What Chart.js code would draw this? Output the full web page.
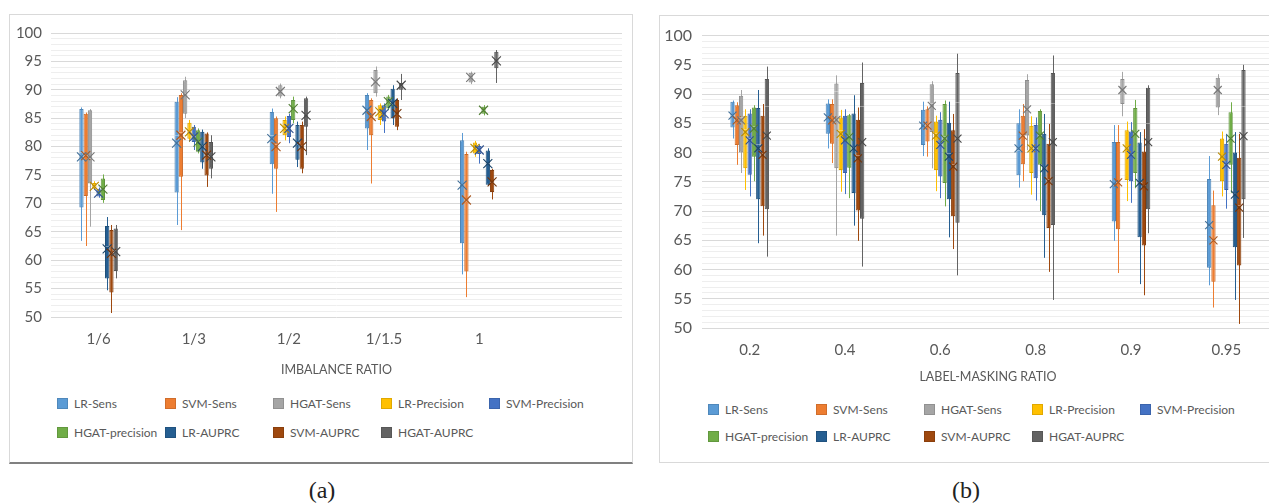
<!DOCTYPE html>
<html>
<head>
<meta charset="utf-8">
<script src="https://cdn.jsdelivr.net/npm/chart.js@4.4.1/dist/chart.umd.min.js"></script>
<style>
html, body { margin: 0; padding: 0; background: #fff; width: 1269px; height: 504px; overflow: hidden; position: relative; font-family: Lato, sans-serif; }
.frame { position: absolute; box-sizing: border-box; border: 1px solid #d9d9d9; }
#frameA { left: 9px; top: 14px; width: 624px; height: 450px; border-bottom: 2px solid #808080; }
#frameB { left: 659px; top: 15px; width: 640px; height: 448px; }
.wrap { position: absolute; height: 380px; }
#wrapA { left: 10px; top: 15px; width: 621px; }
#wrapB { left: 660px; top: 16px; width: 620px; }
.item { position: absolute; white-space: nowrap; font-size: 12px; line-height: 14px; color: #595959; }
.item i { display: inline-block; width: 11px; height: 11px; vertical-align: -1px; margin-right: 6px; box-sizing: border-box; border: 1px solid rgba(0,0,0,.12); }
.cap { position: absolute; font-family: "Liberation Serif", serif; font-size: 24px; color: #222; transform: translate(-50%, -50%); }
</style>
</head>
<body>
<div class="frame" id="frameA"></div>
<div class="frame" id="frameB"></div>
<div class="wrap" id="wrapA"><canvas id="chartA"></canvas></div>
<div class="wrap" id="wrapB"><canvas id="chartB"></canvas></div>
<div id="legends"></div>
<div class="cap" style="left:322px;top:490px">(a)</div>
<div class="cap" style="left:966px;top:490px">(b)</div>
<script>
const seriesNames = ['LR-Sens', 'SVM-Sens', 'HGAT-Sens', 'LR-Precision', 'SVM-Precision', 'HGAT-precision', 'LR-AUPRC', 'SVM-AUPRC', 'HGAT-AUPRC'];
const seriesColors = ['#5B9BD5', '#ED7D31', '#A5A5A5', '#FFC000', '#4472C4', '#70AD47', '#255E91', '#9E480E', '#636363'];

// (a) imbalance ratio, rows = series, columns = categories
const catsA = ['1/6', '1/3', '1/2', '1/1.5', '1', ''];
const minA = [
  [63.4, 66.2, 71.7, 79.4, 57.5],
  [62.5, 65.3, 68.5, 73.5, 53.5],
  [65.9, 85.0, 88.5, 88.8, 91.0],
  [72.4, 80.8, 81.1, 83.8, 78.2],
  [71.0, 79.4, 80.6, 82.4, 77.0],
  [70.1, 78.8, 84.1, 86.4, 85.5],
  [54.7, 76.1, 76.4, 83.8, 73.2],
  [50.7, 72.9, 75.3, 82.9, 70.7],
  [56.8, 74.4, 78.5, 88.2, 91.2]
];
const q1A = [
  [69.3, 71.9, 76.9, 83.2, 63.0],
  [71.3, 74.7, 76.1, 82.0, 58.0],
  [73.5, 85.8, 88.8, 89.4, 91.3],
  [72.6, 81.4, 82.0, 84.7, 78.8],
  [71.2, 80.8, 81.7, 84.4, 78.7],
  [70.6, 79.1, 84.7, 86.7, 85.8],
  [56.8, 77.2, 77.7, 85.0, 73.3],
  [54.3, 74.9, 76.1, 83.5, 72.0],
  [58.1, 76.1, 83.5, 90.0, 93.8]
];
const medA = [
  [79.0, 82.0, 82.0, 86.5, 73.5],
  [78.5, 82.5, 80.5, 85.5, 70.5],
  [78.0, 89.5, 89.8, 91.5, 92.2],
  [73.1, 82.8, 83.3, 86.0, 79.8],
  [71.8, 81.8, 83.3, 85.8, 79.5],
  [72.6, 80.9, 86.6, 87.9, 86.4],
  [62.5, 80.2, 80.5, 87.5, 77.2],
  [61.5, 78.5, 80.2, 85.8, 73.8],
  [61.8, 78.3, 85.8, 90.6, 95.0]
];
const q3A = [
  [86.6, 87.9, 86.1, 89.1, 81.1],
  [85.8, 89.1, 85.0, 88.2, 78.7],
  [86.4, 91.7, 90.8, 93.5, 93.0],
  [73.6, 84.2, 84.7, 87.3, 80.7],
  [72.6, 83.5, 85.4, 87.3, 80.1],
  [74.4, 82.9, 88.2, 88.8, 87.0],
  [66.0, 82.6, 83.8, 90.2, 79.3],
  [65.3, 82.3, 83.8, 88.2, 75.9],
  [65.6, 80.8, 88.5, 91.2, 96.7]
];
const maxA = [
  [86.9, 88.7, 86.7, 89.4, 82.4],
  [86.0, 89.4, 85.3, 88.5, 79.1],
  [86.6, 92.3, 91.1, 94.1, 93.2],
  [73.9, 84.7, 85.3, 87.6, 81.0],
  [72.8, 83.8, 85.8, 87.6, 80.4],
  [75.1, 83.2, 88.8, 89.1, 87.3],
  [67.6, 83.0, 84.4, 90.8, 79.7],
  [66.2, 82.5, 84.4, 88.5, 76.1],
  [66.2, 82.0, 88.8, 92.8, 97.0]
];
const meanA = [
  [78.2, 80.6, 81.4, 86.4, 73.2],
  [78.4, 82.0, 80.0, 85.3, 70.6],
  [78.2, 89.1, 89.7, 91.4, 92.2],
  [73.0, 82.6, 83.2, 86.1, 79.7],
  [71.8, 81.7, 83.2, 85.8, 79.4],
  [72.5, 80.8, 86.7, 87.9, 86.4],
  [62.0, 80.0, 80.6, 87.6, 77.0],
  [61.2, 78.5, 80.0, 85.8, 73.8],
  [61.5, 78.2, 85.5, 90.8, 95.1]
];

// (b) label-masking ratio
const catsB = ['0.2', '0.4', '0.6', '0.8', '0.9', '0.95'];
const minB = [
  [82.4, 80.7, 79.4, 74.0, 64.9, 57.3],
  [77.9, 78.2, 79.3, 75.1, 59.4, 53.5],
  [76.5, 65.8, 77.3, 80.4, 86.2, 86.4],
  [73.6, 73.3, 73.4, 72.8, 71.7, 72.5],
  [72.5, 72.9, 72.2, 71.8, 71.4, 70.4],
  [75.1, 72.2, 70.8, 70.0, 73.9, 73.1],
  [64.5, 67.5, 65.5, 62.0, 57.5, 54.8],
  [65.8, 64.9, 63.5, 59.6, 55.6, 50.7],
  [62.2, 60.5, 59.0, 54.8, 66.2, 65.4]
];
const q1B = [
  [84.3, 83.2, 81.3, 76.1, 68.2, 60.3],
  [81.3, 81.5, 81.9, 78.0, 66.9, 57.9],
  [80.0, 77.3, 83.5, 82.9, 88.3, 87.7],
  [77.3, 77.0, 77.0, 76.5, 75.3, 75.1],
  [76.2, 76.5, 75.9, 75.6, 75.1, 73.6],
  [79.3, 77.4, 74.8, 77.9, 76.5, 77.9],
  [72.0, 73.1, 72.0, 69.3, 65.5, 63.8],
  [70.8, 70.1, 69.1, 67.1, 64.1, 60.7],
  [70.3, 68.7, 68.0, 67.6, 70.3, 72.0]
];
const medB = [
  [86.5, 86.2, 84.8, 80.5, 74.5, 67.5],
  [85.8, 85.8, 84.8, 83.0, 75.0, 65.0],
  [86.0, 90.5, 88.5, 87.5, 90.8, 90.8],
  [84.0, 83.8, 83.3, 81.0, 81.0, 79.5],
  [82.5, 82.3, 81.5, 80.8, 79.8, 78.0],
  [84.5, 83.0, 82.8, 83.0, 83.5, 82.5],
  [81.5, 81.0, 80.0, 77.5, 75.0, 73.0],
  [80.0, 79.5, 78.0, 75.5, 74.5, 71.0],
  [88.0, 88.0, 88.7, 88.5, 85.0, 88.0]
];
const q3B = [
  [88.7, 88.4, 87.3, 85.0, 81.8, 75.5],
  [88.1, 88.3, 87.4, 86.3, 81.8, 71.0],
  [89.7, 91.8, 91.7, 92.4, 92.6, 92.8],
  [86.3, 86.0, 85.3, 84.6, 83.8, 82.4],
  [86.7, 86.3, 85.6, 84.7, 83.6, 81.5],
  [87.7, 86.4, 88.3, 87.1, 87.6, 86.9],
  [87.6, 86.7, 85.1, 83.2, 81.7, 80.0],
  [86.3, 85.6, 83.8, 81.5, 80.2, 79.1],
  [92.6, 91.9, 93.6, 93.6, 91.1, 94.1]
];
const maxB = [
  [88.9, 89.1, 88.7, 87.4, 84.7, 79.4],
  [88.6, 89.1, 87.9, 88.3, 84.7, 73.5],
  [90.7, 93.2, 92.2, 93.4, 93.8, 93.4],
  [87.4, 87.3, 86.3, 86.2, 85.3, 83.6],
  [87.4, 87.4, 86.9, 86.0, 85.2, 83.2],
  [88.1, 86.6, 88.9, 87.4, 89.0, 88.6],
  [90.7, 89.8, 88.7, 86.6, 83.5, 83.5],
  [88.3, 87.7, 86.6, 84.9, 84.0, 83.2],
  [94.7, 95.4, 96.9, 96.6, 91.5, 95.0]
];
const meanB = [
  [86.3, 86.0, 84.6, 80.7, 74.6, 67.6],
  [85.5, 85.5, 84.6, 82.9, 74.9, 65.0],
  [85.5, 85.6, 88.0, 87.4, 90.7, 90.7],
  [83.5, 83.2, 82.9, 80.7, 80.7, 79.3],
  [82.1, 82.1, 81.3, 80.7, 79.6, 77.9],
  [84.1, 82.7, 82.4, 82.9, 83.2, 82.4],
  [80.7, 80.7, 79.3, 77.3, 74.8, 72.8],
  [79.6, 79.0, 77.6, 75.1, 74.2, 70.6],
  [82.9, 81.8, 82.4, 81.8, 81.8, 82.8]
];

const textColor = '#595959';

function shade(hex, f) {
  const n = parseInt(hex.slice(1), 16);
  const r = Math.round(((n >> 16) & 255) * f), g = Math.round(((n >> 8) & 255) * f), b = Math.round((n & 255) * f);
  return `rgb(${r},${g},${b})`;
}

// whiskers behind the boxes, median and mean marks on top
const boxPlugin = {
  id: 'boxMarks',
  beforeDatasetsDraw(chart) {
    const ctx = chart.ctx, y = chart.scales.y;
    chart.data.datasets.forEach((ds, i) => {
      chart.getDatasetMeta(i).data.forEach((bar, j) => {
        const st = ds.stats;
        if (st.min[j] == null) return;
        const x = Math.round(bar.x) + 0.5;
        ctx.save();
        ctx.strokeStyle = ds.backgroundColor;
        ctx.lineWidth = 1;
        ctx.beginPath();
        ctx.moveTo(x, y.getPixelForValue(st.min[j]));
        ctx.lineTo(x, y.getPixelForValue(st.max[j]));
        ctx.stroke();
        ctx.restore();
      });
    });
  },
  afterDatasetsDraw(chart, args, opts) {
    const ctx = chart.ctx, y = chart.scales.y;
    const s = opts.markSize || 4;
    chart.data.datasets.forEach((ds, i) => {
      chart.getDatasetMeta(i).data.forEach((bar, j) => {
        const st = ds.stats;
        if (st.mean[j] == null) return;
        const w = bar.width / 2;
        const ym = Math.round(y.getPixelForValue(st.med[j])) + 0.5;
        ctx.save();
        ctx.strokeStyle = 'rgba(255,255,255,0.35)';
        ctx.lineWidth = 1;
        ctx.beginPath();
        ctx.moveTo(bar.x - w, ym);
        ctx.lineTo(bar.x + w, ym);
        ctx.stroke();
        const yv = y.getPixelForValue(st.mean[j]);
        ctx.strokeStyle = shade(seriesColors[i], 0.72);
        ctx.lineWidth = 1.1;
        ctx.beginPath();
        ctx.moveTo(bar.x - s, yv - s);
        ctx.lineTo(bar.x + s, yv + s);
        ctx.moveTo(bar.x - s, yv + s);
        ctx.lineTo(bar.x + s, yv - s);
        ctx.stroke();
        ctx.restore();
      });
    });
  }
};

function makeChart(id, labels, mins, q1s, meds, q3s, maxs, means, cfg) {
  const datasets = seriesNames.map((name, i) => ({
    label: name,
    data: q1s[i].map((q, j) => [q, q3s[i][j]]),
    backgroundColor: seriesColors[i],
    borderColor: shade(seriesColors[i], 0.85),
    borderWidth: 1,
    borderSkipped: false,
    barPercentage: 1,
    categoryPercentage: 0.405,
    stats: { min: mins[i], med: meds[i], max: maxs[i], mean: means[i] }
  }));
  return new Chart(document.getElementById(id), {
    type: 'bar',
    data: { labels: labels, datasets: datasets },
    plugins: [boxPlugin],
    options: {
      responsive: true,
      maintainAspectRatio: false,
      animation: false,
      layout: { padding: { top: cfg.top, right: cfg.right, bottom: 0, left: 0 } },
      plugins: {
        legend: { display: false },
        tooltip: { enabled: false },
        boxMarks: { markSize: cfg.mark }
      },
      scales: {
        x: {
          grid: { display: false },
          border: { display: false },
          ticks: { color: textColor, font: { family: 'Lato', size: 15 }, padding: cfg.tickPad, maxRotation: 0 },
          title: {
            display: true,
            text: cfg.title,
            color: textColor,
            font: { family: 'Lato', size: 12.5 },
            padding: { top: 0, bottom: cfg.titlePad }
          },
          afterFit: s => { s.height = cfg.xHeight; }
        },
        y: {
          min: 50,
          max: 100,
          border: { display: false },
          grid: {
            drawTicks: false,
            color: c => (c.tick && c.tick.value % 5 === 0) ? '#d9d9d9' : '#eeeeee'
          },
          ticks: {
            stepSize: 1,
            autoSkip: false,
            color: textColor,
            font: { family: 'Lato', size: cfg.yFont },
            padding: cfg.yPad,
            callback: v => v % 5 === 0 ? v : ''
          },
          afterFit: s => { s.width = cfg.yWidth; }
        }
      }
    }
  });
}

makeChart('chartA', catsA, minA, q1A, medA, q3A, maxA, meanA, {
  title: 'IMBALANCE RATIO', top: 18, right: 9, xHeight: 78, tickPad: 5, titlePad: 17.5,
  yWidth: 41, yPad: 9, yFont: 15, mark: 4.5
});
makeChart('chartB', catsB, minB, q1B, medB, q3B, maxB, meanB, {
  title: 'LABEL-MASKING RATIO', top: 14, right: 6, xHeight: 68, tickPad: 5, titlePad: 11.5,
  yWidth: 42, yPad: 10, yFont: 16, mark: 4
});

// legends laid out as the 5-column grid of the reference
function buildLegend(left, rowYs) {
  const host = document.getElementById('legends');
  seriesNames.forEach((name, i) => {
    const el = document.createElement('div');
    el.className = 'item';
    el.style.left = (left + 108 * (i % 5)) + 'px';
    el.style.top = (rowYs[Math.floor(i / 5)] - 7) + 'px';
    el.innerHTML = `<i style="background:${seriesColors[i]}"></i>${name}`;
    host.appendChild(el);
  });
}
buildLegend(57, [404, 433]);
buildLegend(708, [410, 437]);
</script>
</body>
</html>
